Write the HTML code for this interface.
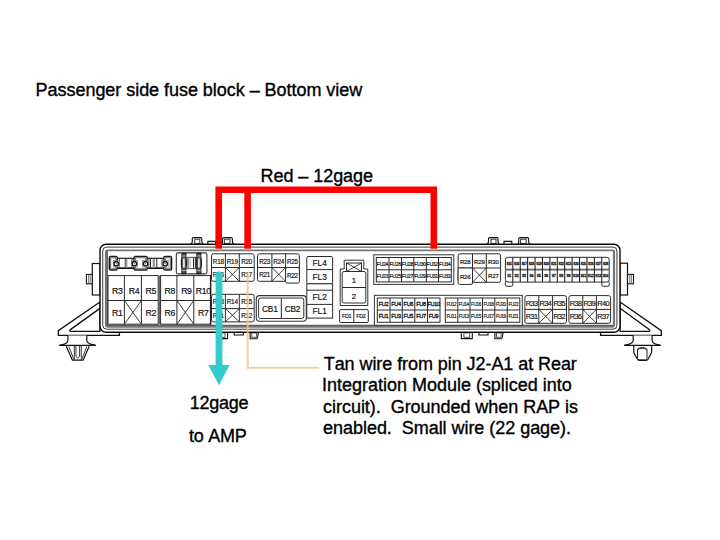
<!DOCTYPE html>
<html><head><meta charset="utf-8"><style>
html,body{margin:0;padding:0;background:#fff;overflow:hidden;width:720px;height:540px;}
svg{display:block;}
text{font-kerning:none;}
</style></head><body>
<svg width="720" height="540" viewBox="0 0 720 540" font-family='"Liberation Sans", sans-serif'>
<rect width="720" height="540" fill="#fff"/>
<text x="35.6" y="96" font-size="18" fill="#000" stroke="#000" stroke-width="0.35" textLength="326.6" lengthAdjust="spacing" xml:space="preserve">Passenger side fuse block – Bottom view</text>
<text x="260.6" y="182.3" font-size="18" fill="#000" stroke="#000" stroke-width="0.35" textLength="112.4" lengthAdjust="spacing" xml:space="preserve">Red – 12gage</text>
<text x="323.75" y="370.2" font-size="18" fill="#000" stroke="#000" stroke-width="0.35" textLength="253.1" lengthAdjust="spacing" xml:space="preserve">Tan wire from pin J2-A1 at Rear</text>
<text x="322.0" y="391.4" font-size="18" fill="#000" stroke="#000" stroke-width="0.35" textLength="249.8" lengthAdjust="spacing" xml:space="preserve">Integration Module (spliced into</text>
<text x="323.1" y="412.6" font-size="18" fill="#000" stroke="#000" stroke-width="0.35" textLength="254.9" lengthAdjust="spacing" xml:space="preserve">circuit).  Grounded when RAP is</text>
<text x="323.1" y="433.8" font-size="18" fill="#000" stroke="#000" stroke-width="0.35" textLength="247.9" lengthAdjust="spacing" xml:space="preserve">enabled.  Small wire (22 gage).</text>
<text x="189.7" y="409" font-size="18" fill="#000" stroke="#000" stroke-width="0.35" textLength="58.9" lengthAdjust="spacing" xml:space="preserve">12gage</text>
<text x="189" y="441.8" font-size="18" fill="#000" stroke="#000" stroke-width="0.35" textLength="57.7" lengthAdjust="spacing" xml:space="preserve">to AMP</text>
<path d="M99.6,302.2 L58.3,330.6 L58.3,335.4 L119.4,335.4 L119.4,332" fill="#fff" stroke="#111" stroke-width="1.3"/>
<path d="M99.6,308.6 L70.4,329.6 Q69,331.3 71,331.3 L99.9,331.3 L99.9,302" fill="none" stroke="#111" stroke-width="1.3"/>
<path d="M67.9,335.4 L67.9,340.5 C67.9,343.2 64,344.6 59.4,345.4 L95.7,345.4 C91,344.6 86.8,343.2 86.8,340.5 L86.8,335.4" fill="#fff" stroke="#111" stroke-width="1.2"/>
<path d="M59.4,345.4 L62.5,344.6 L62.5,345.4 Z M95.7,345.4 L92.6,344.6 L92.6,345.4 Z" fill="#111" stroke="#111" stroke-width="0.8"/>
<path d="M66.3,346.2 L72.4,360.2 L83.1,360.2 L89.2,346.2" fill="#fff" stroke="#111" stroke-width="1.2"/>
<path d="M68.8,346.5 L73.6,358.8 M86.8,346.5 L82.1,358.8 M74.3,346 L74.3,360 M81.3,346 L81.3,360 M75.9,346 L75.9,356.3 L77.6,358.2 L79.6,356.3 L79.6,346" fill="none" stroke="#222" stroke-width="0.9"/>
<path d="M620.4,302.2 L661.3,330.6 L661.3,335.4 L600.6,335.4 L600.6,332" fill="#fff" stroke="#111" stroke-width="1.3"/>
<path d="M620.4,308.4 L649.2,329.6 Q650.8,331.3 648.6,331.3 L620.1,331.3 L620.1,302" fill="none" stroke="#111" stroke-width="1.3"/>
<path d="M633.2,335.4 L633.2,340.5 C633.2,343.2 629,344.6 624.3,345.4 L660.6,345.4 C656,344.6 652.1,343.2 652.1,340.5 L652.1,335.4" fill="#fff" stroke="#111" stroke-width="1.2"/>
<path d="M624.3,345.4 L627.4,344.6 L627.4,345.4 Z M660.6,345.4 L657.5,344.6 L657.5,345.4 Z" fill="#111" stroke="#111" stroke-width="0.8"/>
<path d="M633.8,346 L633.8,352.5 L637.3,359 Q638,360.3 639.5,360.3 L646,360.3 Q647.5,360.3 648.2,359 L651.6,352.5 L651.6,346" fill="#fff" stroke="#111" stroke-width="1.2"/>
<rect x="637.5" y="348.3" width="9.5" height="11.5" rx="1.6" fill="#fff" stroke="#222" stroke-width="1"/>
<path d="M638.2,350.2 C639.5,346.8 645,346.8 646.4,350.2 M640.5,348.6 L641.4,346.8 M644,348.6 L643.2,346.8" fill="none" stroke="#222" stroke-width="0.8"/>
<rect x="92.3" y="263.5" width="7.70" height="31.50" rx="0" fill="#fff" stroke="#111" stroke-width="1.2"/>
<rect x="86.4" y="274.4" width="5.90" height="9.40" rx="0" fill="#fff" stroke="#111" stroke-width="1.1"/>
<line x1="88.7" y1="274.6" x2="88.7" y2="283.6" stroke="#444" stroke-width="0.8"/>
<line x1="90.4" y1="274.6" x2="90.4" y2="283.6" stroke="#666" stroke-width="0.8"/>
<rect x="620" y="263.2" width="7.50" height="31.80" rx="0" fill="#fff" stroke="#111" stroke-width="1.2"/>
<rect x="627.5" y="274.4" width="6.00" height="9.40" rx="0" fill="#fff" stroke="#111" stroke-width="1.1"/>
<line x1="629.6" y1="274.6" x2="629.6" y2="283.6" stroke="#666" stroke-width="0.8"/>
<line x1="631.3" y1="274.6" x2="631.3" y2="283.6" stroke="#444" stroke-width="0.8"/>
<path d="M190.5,244 C192.0,244 192.3,243 192.3,241 L192.3,238.6 C192.3,237.9 192.8,237.6 193.5,237.6 L200.6,237.6 C201.3,237.6 201.8,238 201.8,238.8 L201.8,241 C201.8,243 202.2,244 203.5,244" fill="#fff" stroke="#111" stroke-width="1.1"/>
<rect x="194.8" y="239.2" width="5" height="4.4" fill="#fff" stroke="#333" stroke-width="1"/>
<path d="M207.8,244 L207.8,241.4 L215.6,241.4 L215.6,244" fill="#fff" stroke="#111" stroke-width="1.1"/>
<path d="M221.2,244 C222.4,244 222.6,243 222.6,241 L222.6,238.6 C222.6,237.9 223.1,237.6 223.8,237.6 L231.2,237.6 C231.9,237.6 232.4,238 232.4,238.8 L232.4,241 C232.4,243 232.8,244 234.2,244" fill="#fff" stroke="#111" stroke-width="1.1"/>
<rect x="224.4" y="239.2" width="5.6" height="4.4" fill="#fff" stroke="#333" stroke-width="1"/>
<path d="M486.7,244 C488.2,244 488.5,243 488.5,241 L488.5,238.6 C488.5,237.9 489.0,237.6 489.7,237.6 L496.79999999999995,237.6 C497.5,237.6 498.0,238 498.0,238.8 L498.0,241 C498.0,243 498.4,244 499.7,244" fill="#fff" stroke="#111" stroke-width="1.1"/>
<rect x="491.0" y="239.2" width="5" height="4.4" fill="#fff" stroke="#333" stroke-width="1"/>
<path d="M504.0,244 L504.0,241.4 L511.79999999999995,241.4 L511.79999999999995,244" fill="#fff" stroke="#111" stroke-width="1.1"/>
<path d="M517.4,244 C518.6,244 518.8,243 518.8,241 L518.8,238.6 C518.8,237.9 519.3,237.6 520.0,237.6 L527.4,237.6 C528.1,237.6 528.6,238 528.6,238.8 L528.6,241 C528.6,243 529.0,244 530.4,244" fill="#fff" stroke="#111" stroke-width="1.1"/>
<rect x="520.6" y="239.2" width="5.6" height="4.4" fill="#fff" stroke="#333" stroke-width="1"/>
<path d="M215.2,332 C216.4,332 216.6,333 216.6,334.5 L216.6,338.6 L227.6,338.6 L227.6,332" fill="#fff" stroke="#111" stroke-width="1.1"/>
<rect x="219.2" y="332.9" width="5.8" height="4.4" fill="#fff" stroke="#444" stroke-width="0.9"/>
<path d="M234.2,332 L234.2,335 L243.3,335 L243.3,332" fill="#fff" stroke="#111" stroke-width="1.1"/>
<path d="M250.2,332 L250.2,338.8 L256.6,338.8 C257.6,338.8 257.8,337 258.0,334.5 C258.2,332.6 258.8,332 260.0,332" fill="#fff" stroke="#111" stroke-width="1.1"/>
<rect x="251.8" y="332.9" width="4.6" height="4.4" fill="#fff" stroke="#444" stroke-width="0.9"/>
<path d="M459.9,332 C461.1,332 461.3,333 461.3,334.5 L461.3,338.6 L472.3,338.6 L472.3,332" fill="#fff" stroke="#111" stroke-width="1.1"/>
<rect x="463.9" y="332.9" width="5.8" height="4.4" fill="#fff" stroke="#444" stroke-width="0.9"/>
<path d="M478.9,332 L478.9,335 L488.0,335 L488.0,332" fill="#fff" stroke="#111" stroke-width="1.1"/>
<path d="M494.9,332 L494.9,338.8 L501.30000000000007,338.8 C502.30000000000007,338.8 502.5,337 502.70000000000005,334.5 C502.9,332.6 503.5,332 504.70000000000005,332" fill="#fff" stroke="#111" stroke-width="1.1"/>
<rect x="496.5" y="332.9" width="4.6" height="4.4" fill="#fff" stroke="#444" stroke-width="0.9"/>
<rect x="100" y="244.2" width="520.00" height="88.00" rx="6" fill="#fff" stroke="#0a0a0a" stroke-width="1.4"/>
<rect x="102.75" y="247.1" width="514.20" height="82.10" rx="4" fill="#fff" stroke="#3a3a3a" stroke-width="1.0"/>
<path d="M104.9,324.8 L104.9,251.5 Q104.9,249.4 107,249.4 L613,249.4 Q615.1,249.4 615.1,251.5 L615.1,324.8 Q615.1,327.7 612.2,327.7 L107.8,327.7 Q104.9,327.7 104.9,324.8 Z M107.4,324.9 L612.9,324.9 L612.9,251.3 L107.4,251.3 Z" fill="#767676" fill-rule="evenodd"/>
<line x1="107.4" y1="251.3" x2="107.4" y2="324.9" stroke="#444" stroke-width="0.8"/>
<line x1="107" y1="325.2" x2="613" y2="325.2" stroke="#444" stroke-width="0.7"/>
<rect x="110" y="258.3" width="61" height="9.9" fill="#fff" stroke="#1a1a1a" stroke-width="1.2"/>
<line x1="110" y1="268.3" x2="171" y2="268.3" stroke="#111" stroke-width="1.6"/>
<rect x="109.3" y="256.4" width="7.9" height="13.6" rx="1.3" fill="#fff" stroke="#1a1a1a" stroke-width="1.4"/>
<rect x="110.6" y="257.7" width="5.3" height="11" rx="0.8" fill="#fff" stroke="#666" stroke-width="1.1"/>
<rect x="134.0" y="256.4" width="13.2" height="13.6" rx="1.3" fill="#fff" stroke="#1a1a1a" stroke-width="1.4"/>
<rect x="135.3" y="257.7" width="10.6" height="11" rx="0.8" fill="#fff" stroke="#666" stroke-width="1.1"/>
<rect x="163.8" y="256.4" width="7.8" height="13.6" rx="1.3" fill="#fff" stroke="#1a1a1a" stroke-width="1.4"/>
<rect x="165.1" y="257.7" width="5.2" height="11" rx="0.8" fill="#fff" stroke="#666" stroke-width="1.1"/>
<rect x="124.8" y="258.8" width="1.0" height="9" fill="#222"/>
<rect x="125.6" y="258.8" width="1.8" height="9" fill="#999"/>
<rect x="131.5" y="258.8" width="1.0" height="9" fill="#222"/>
<rect x="150.0" y="258.8" width="1.0" height="9" fill="#222"/>
<rect x="152.6" y="258.8" width="2.4" height="9" fill="#999"/>
<rect x="156.3" y="258.8" width="1.0" height="9" fill="#222"/>
<rect x="119.0" y="258.8" width="0.8" height="9" fill="#555"/>
<rect x="148.6" y="258.8" width="0.8" height="9" fill="#555"/>
<rect x="161.6" y="258.8" width="0.8" height="9" fill="#555"/>
<rect x="113.3" y="260.4" width="6" height="6.6" fill="#fff" stroke="#666" stroke-width="0.6"/>
<circle cx="116.3" cy="263.7" r="2.2" fill="#fff" stroke="#111" stroke-width="1.3"/>
<circle cx="116.3" cy="263.7" r="0.6" fill="#555"/>
<rect x="131.4" y="260.4" width="6" height="6.6" fill="#fff" stroke="#666" stroke-width="0.6"/>
<circle cx="134.4" cy="263.7" r="2.2" fill="#fff" stroke="#111" stroke-width="1.3"/>
<circle cx="134.4" cy="263.7" r="0.6" fill="#555"/>
<rect x="142.6" y="260.4" width="6" height="6.6" fill="#fff" stroke="#666" stroke-width="0.6"/>
<circle cx="145.6" cy="263.7" r="2.2" fill="#fff" stroke="#111" stroke-width="1.3"/>
<circle cx="145.6" cy="263.7" r="0.6" fill="#555"/>
<rect x="162.2" y="260.4" width="6" height="6.6" fill="#fff" stroke="#666" stroke-width="0.6"/>
<circle cx="165.2" cy="263.7" r="2.2" fill="#fff" stroke="#111" stroke-width="1.3"/>
<circle cx="165.2" cy="263.7" r="0.6" fill="#555"/>
<rect x="176.3" y="252.9" width="30.60" height="21.00" rx="1.6" fill="#fff" stroke="#333" stroke-width="1.1"/>
<rect x="185.6" y="257.3" width="11.8" height="11.4" fill="#fff" stroke="#333" stroke-width="0.9"/>
<rect x="186.8" y="257.6" width="2.6" height="10.8" fill="#999"/>
<line x1="190.6" y1="257.6" x2="190.6" y2="268.4" stroke="#bbb" stroke-width="0.8"/>
<line x1="193.6" y1="257.6" x2="193.6" y2="268.4" stroke="#222" stroke-width="1"/>
<line x1="195.4" y1="257.6" x2="195.4" y2="268.4" stroke="#222" stroke-width="0.9"/>
<path d="M181.9,253.2 L181.9,257.5 C181.1,259.5 181.1,266.5 181.9,268.5 L181.9,273.7 L185.9,273.7 L185.9,268.5 C186.70000000000002,266.5 186.70000000000002,259.5 185.9,257.5 L185.9,253.2 Z" fill="#555" stroke="#111" stroke-width="1"/>
<rect x="183.0" y="258.6" width="1.8" height="9" fill="#e8e8e8"/>
<path d="M181.9,256 L185.9,256 M181.9,270.6 L185.9,270.6" stroke="#ddd" stroke-width="0.7"/>
<path d="M196.9,253.2 L196.9,257.5 C196.1,259.5 196.1,266.5 196.9,268.5 L196.9,273.7 L200.9,273.7 L200.9,268.5 C201.70000000000002,266.5 201.70000000000002,259.5 200.9,257.5 L200.9,253.2 Z" fill="#555" stroke="#111" stroke-width="1"/>
<rect x="198.0" y="258.6" width="1.8" height="9" fill="#e8e8e8"/>
<path d="M196.9,256 L200.9,256 M196.9,270.6 L200.9,270.6" stroke="#ddd" stroke-width="0.7"/>
<rect x="108" y="275.6" width="50.20" height="48.60" rx="0" fill="#fff" stroke="#2a2a2a" stroke-width="1"/>
<line x1="124.4" y1="275.6" x2="124.4" y2="324.2" stroke="#2a2a2a" stroke-width="1"/>
<line x1="141.4" y1="275.6" x2="141.4" y2="324.2" stroke="#2a2a2a" stroke-width="1"/>
<line x1="108" y1="300.5" x2="158.2" y2="300.5" stroke="#2a2a2a" stroke-width="1"/>
<text x="117.25" y="293.74" font-size="8.7" letter-spacing="-0.3" text-anchor="middle" fill="#111" stroke="#111" stroke-width="0.18">R3</text>
<text x="133.95" y="293.74" font-size="8.7" letter-spacing="-0.3" text-anchor="middle" fill="#111" stroke="#111" stroke-width="0.18">R4</text>
<text x="150.85" y="293.74" font-size="8.7" letter-spacing="-0.3" text-anchor="middle" fill="#111" stroke="#111" stroke-width="0.18">R5</text>
<text x="117.25" y="315.74" font-size="8.7" letter-spacing="-0.3" text-anchor="middle" fill="#111" stroke="#111" stroke-width="0.18">R1</text>
<line x1="124.4" y1="300.5" x2="141.4" y2="324.2" stroke="#2a2a2a" stroke-width="0.9"/>
<line x1="124.4" y1="324.2" x2="141.4" y2="300.5" stroke="#2a2a2a" stroke-width="0.9"/>
<text x="150.85" y="315.74" font-size="8.7" letter-spacing="-0.3" text-anchor="middle" fill="#111" stroke="#111" stroke-width="0.18">R2</text>
<line x1="159.4" y1="275.6" x2="159.4" y2="324.2" stroke="#666" stroke-width="1.6"/>
<rect x="160.6" y="275.6" width="50.00" height="48.60" rx="0" fill="#fff" stroke="#2a2a2a" stroke-width="1"/>
<line x1="176.9" y1="275.6" x2="176.9" y2="324.2" stroke="#2a2a2a" stroke-width="1"/>
<line x1="193.8" y1="275.6" x2="193.8" y2="324.2" stroke="#2a2a2a" stroke-width="1"/>
<line x1="160.6" y1="300.5" x2="210.6" y2="300.5" stroke="#2a2a2a" stroke-width="1"/>
<text x="169.80" y="293.74" font-size="8.7" letter-spacing="-0.3" text-anchor="middle" fill="#111" stroke="#111" stroke-width="0.18">R8</text>
<text x="186.40" y="293.74" font-size="8.7" letter-spacing="-0.3" text-anchor="middle" fill="#111" stroke="#111" stroke-width="0.18">R9</text>
<text x="203.25" y="293.74" font-size="8.7" letter-spacing="-0.3" text-anchor="middle" fill="#111" stroke="#111" stroke-width="0.18">R10</text>
<text x="169.80" y="315.74" font-size="8.7" letter-spacing="-0.3" text-anchor="middle" fill="#111" stroke="#111" stroke-width="0.18">R6</text>
<line x1="176.9" y1="300.5" x2="193.8" y2="324.2" stroke="#2a2a2a" stroke-width="0.9"/>
<line x1="176.9" y1="324.2" x2="193.8" y2="300.5" stroke="#2a2a2a" stroke-width="0.9"/>
<text x="203.25" y="315.74" font-size="8.7" letter-spacing="-0.3" text-anchor="middle" fill="#111" stroke="#111" stroke-width="0.18">R7</text>
<line x1="210.6" y1="275.6" x2="210.6" y2="324.8" stroke="#222" stroke-width="1.4"/>
<rect x="211.5" y="253.8" width="42.70" height="27.50" rx="2" fill="#fff" stroke="#2a2a2a" stroke-width="1"/>
<line x1="225.4" y1="253.8" x2="225.4" y2="281.3" stroke="#2a2a2a" stroke-width="1"/>
<line x1="239.3" y1="253.8" x2="239.3" y2="281.3" stroke="#2a2a2a" stroke-width="1"/>
<line x1="211.5" y1="267.5" x2="254.2" y2="267.5" stroke="#2a2a2a" stroke-width="1"/>
<text x="218.38" y="263.52" font-size="6.3" letter-spacing="-0.15" text-anchor="middle" fill="#111" stroke="#111" stroke-width="0.18">R18</text>
<text x="232.28" y="263.52" font-size="6.3" letter-spacing="-0.15" text-anchor="middle" fill="#111" stroke="#111" stroke-width="0.18">R19</text>
<text x="246.68" y="263.52" font-size="6.3" letter-spacing="-0.15" text-anchor="middle" fill="#111" stroke="#111" stroke-width="0.18">R20</text>
<text x="218.38" y="277.27" font-size="6.3" letter-spacing="-0.15" text-anchor="middle" fill="#111" stroke="#111" stroke-width="0.18">R16</text>
<line x1="225.4" y1="267.5" x2="239.3" y2="281.3" stroke="#2a2a2a" stroke-width="0.9"/>
<line x1="225.4" y1="281.3" x2="239.3" y2="267.5" stroke="#2a2a2a" stroke-width="0.9"/>
<text x="246.68" y="277.27" font-size="6.3" letter-spacing="-0.15" text-anchor="middle" fill="#111" stroke="#111" stroke-width="0.18">R17</text>
<rect x="211.5" y="294.3" width="42.70" height="27.60" rx="2" fill="#fff" stroke="#2a2a2a" stroke-width="1"/>
<line x1="225.4" y1="294.3" x2="225.4" y2="321.9" stroke="#2a2a2a" stroke-width="1"/>
<line x1="239.3" y1="294.3" x2="239.3" y2="321.9" stroke="#2a2a2a" stroke-width="1"/>
<line x1="211.5" y1="308.6" x2="254.2" y2="308.6" stroke="#2a2a2a" stroke-width="1"/>
<text x="218.38" y="304.32" font-size="6.3" letter-spacing="-0.15" text-anchor="middle" fill="#111" stroke="#111" stroke-width="0.18">R13</text>
<text x="232.28" y="304.32" font-size="6.3" letter-spacing="-0.15" text-anchor="middle" fill="#111" stroke="#111" stroke-width="0.18">R14</text>
<text x="246.68" y="304.32" font-size="6.3" letter-spacing="-0.15" text-anchor="middle" fill="#111" stroke="#111" stroke-width="0.18">R15</text>
<text x="218.38" y="318.12" font-size="6.3" letter-spacing="-0.15" text-anchor="middle" fill="#111" stroke="#111" stroke-width="0.18">R11</text>
<line x1="225.4" y1="308.6" x2="239.3" y2="321.9" stroke="#2a2a2a" stroke-width="0.9"/>
<line x1="225.4" y1="321.9" x2="239.3" y2="308.6" stroke="#2a2a2a" stroke-width="0.9"/>
<text x="246.68" y="318.12" font-size="6.3" letter-spacing="-0.15" text-anchor="middle" fill="#111" stroke="#111" stroke-width="0.18">R12</text>
<rect x="257.5" y="253.8" width="41.90" height="27.50" rx="2" fill="#fff" stroke="#2a2a2a" stroke-width="1"/>
<line x1="271.9" y1="253.8" x2="271.9" y2="281.3" stroke="#2a2a2a" stroke-width="1"/>
<line x1="285.6" y1="253.8" x2="285.6" y2="281.3" stroke="#2a2a2a" stroke-width="1"/>
<line x1="257.5" y1="267.5" x2="299.4" y2="267.5" stroke="#2a2a2a" stroke-width="1"/>
<text x="264.57" y="263.52" font-size="6.3" letter-spacing="-0.25" text-anchor="middle" fill="#111" stroke="#111" stroke-width="0.18">R23</text>
<text x="278.62" y="263.52" font-size="6.3" letter-spacing="-0.25" text-anchor="middle" fill="#111" stroke="#111" stroke-width="0.18">R24</text>
<text x="292.38" y="263.52" font-size="6.3" letter-spacing="-0.25" text-anchor="middle" fill="#111" stroke="#111" stroke-width="0.18">R25</text>
<text x="264.57" y="277.27" font-size="6.3" letter-spacing="-0.25" text-anchor="middle" fill="#111" stroke="#111" stroke-width="0.18">R21</text>
<line x1="271.9" y1="267.5" x2="285.6" y2="281.3" stroke="#2a2a2a" stroke-width="0.9"/>
<line x1="271.9" y1="281.3" x2="285.6" y2="267.5" stroke="#2a2a2a" stroke-width="0.9"/>
<rect x="285.6" y="267.5" width="13.80" height="15.60" rx="1.5" fill="#fff" stroke="#2a2a2a" stroke-width="1"/>
<text x="292.38" y="278.27" font-size="6.3" letter-spacing="-0.25" text-anchor="middle" fill="#111" stroke="#111" stroke-width="0.18">R22</text>
<rect x="306.8" y="256.5" width="25.80" height="27.30" rx="1.2" fill="#fff" stroke="#2a2a2a" stroke-width="1"/>
<line x1="306.8" y1="269.6" x2="332.6" y2="269.6" stroke="#2a2a2a" stroke-width="1"/>
<text x="319.70" y="266.21" font-size="8.3" letter-spacing="0" text-anchor="middle" fill="#111" stroke="#111" stroke-width="0.18">FL4</text>
<text x="319.70" y="279.86" font-size="8.3" letter-spacing="0" text-anchor="middle" fill="#111" stroke="#111" stroke-width="0.18">FL3</text>
<rect x="306.8" y="283.8" width="25.80" height="34.30" rx="0" fill="#fff" stroke="#2a2a2a" stroke-width="1"/>
<line x1="306.8" y1="290.2" x2="332.6" y2="290.2" stroke="#2a2a2a" stroke-width="1"/>
<line x1="306.8" y1="304.4" x2="332.6" y2="304.4" stroke="#2a2a2a" stroke-width="1"/>
<text x="319.70" y="300.46" font-size="8.3" letter-spacing="0" text-anchor="middle" fill="#111" stroke="#111" stroke-width="0.18">FL2</text>
<text x="319.70" y="314.41" font-size="8.3" letter-spacing="0" text-anchor="middle" fill="#111" stroke="#111" stroke-width="0.18">FL1</text>
<rect x="256.3" y="295.6" width="50.00" height="25.70" rx="3.2" fill="#fff" stroke="#333" stroke-width="1.1"/>
<rect x="258.6" y="298" width="45.20" height="20.50" rx="2" fill="#fff" stroke="#333" stroke-width="1"/>
<line x1="281.3" y1="298" x2="281.3" y2="318.5" stroke="#2a2a2a" stroke-width="1"/>
<text x="269.80" y="311.64" font-size="8.4" letter-spacing="-0.3" text-anchor="middle" fill="#111" stroke="#111" stroke-width="0.18">CB1</text>
<text x="292.40" y="311.64" font-size="8.4" letter-spacing="-0.3" text-anchor="middle" fill="#111" stroke="#111" stroke-width="0.18">CB2</text>
<path d="M344.2,269 L344.2,260.2 L363.8,260.2 L363.8,269 L367.8,269 L367.8,305.5 L340.2,305.5 L340.2,269 Z" fill="#fff" stroke="#333" stroke-width="1"/>
<rect x="342.2" y="271.5" width="23.6" height="31.5" rx="1.8" fill="#fff" stroke="#333" stroke-width="1"/>
<line x1="342.2" y1="287.5" x2="365.8" y2="287.5" stroke="#2a2a2a" stroke-width="1"/>
<rect x="346.5" y="263" width="15.00" height="8.50" rx="0" fill="#fff" stroke="#2a2a2a" stroke-width="1"/>
<line x1="346.5" y1="263" x2="361.5" y2="271.5" stroke="#2a2a2a" stroke-width="0.9"/>
<line x1="346.5" y1="271.5" x2="361.5" y2="263" stroke="#2a2a2a" stroke-width="0.9"/>
<text x="354.00" y="282.88" font-size="7.8" letter-spacing="0" text-anchor="middle" fill="#111" stroke="#111" stroke-width="0.18">1</text>
<text x="354.00" y="298.63" font-size="7.8" letter-spacing="0" text-anchor="middle" fill="#111" stroke="#111" stroke-width="0.18">2</text>
<rect x="339.6" y="309.6" width="28.70" height="12.90" rx="1.2" fill="#fff" stroke="#2a2a2a" stroke-width="1"/>
<line x1="353.8" y1="309.6" x2="353.8" y2="322.5" stroke="#2a2a2a" stroke-width="1"/>
<text x="346.55" y="318.31" font-size="5.4" letter-spacing="-0.3" text-anchor="middle" fill="#111" stroke="#111" stroke-width="0.18">FD1</text>
<text x="360.90" y="318.31" font-size="5.4" letter-spacing="-0.3" text-anchor="middle" fill="#111" stroke="#111" stroke-width="0.18">FD2</text>
<rect x="373.8" y="254.8" width="80.00" height="29.60" rx="0" fill="#fff" stroke="#333" stroke-width="1"/>
<rect x="376.3" y="257.5" width="75.00" height="24.40" rx="0" fill="#fff" stroke="#2a2a2a" stroke-width="1"/>
<line x1="389" y1="257.5" x2="389" y2="281.9" stroke="#2a2a2a" stroke-width="1"/>
<line x1="401.5" y1="257.5" x2="401.5" y2="281.9" stroke="#2a2a2a" stroke-width="1"/>
<line x1="413.8" y1="257.5" x2="413.8" y2="281.9" stroke="#2a2a2a" stroke-width="1"/>
<line x1="426.3" y1="257.5" x2="426.3" y2="281.9" stroke="#2a2a2a" stroke-width="1"/>
<line x1="438.5" y1="257.5" x2="438.5" y2="281.9" stroke="#2a2a2a" stroke-width="1"/>
<line x1="376.3" y1="269.8" x2="451.3" y2="269.8" stroke="#2a2a2a" stroke-width="1"/>
<text x="382.50" y="265.70" font-size="5.1" letter-spacing="-0.3" text-anchor="middle" fill="#111" stroke="#111" stroke-width="0.2">FU24</text>
<text x="395.10" y="265.70" font-size="5.1" letter-spacing="-0.3" text-anchor="middle" fill="#111" stroke="#111" stroke-width="0.2">FU26</text>
<text x="407.50" y="265.70" font-size="5.1" letter-spacing="-0.3" text-anchor="middle" fill="#111" stroke="#111" stroke-width="0.2">FU28</text>
<text x="419.90" y="265.70" font-size="5.1" letter-spacing="-0.3" text-anchor="middle" fill="#111" stroke="#111" stroke-width="0.2">FU30</text>
<text x="432.25" y="265.70" font-size="5.1" letter-spacing="-0.3" text-anchor="middle" fill="#111" stroke="#111" stroke-width="0.2">FU32</text>
<text x="444.75" y="265.70" font-size="5.1" letter-spacing="-0.3" text-anchor="middle" fill="#111" stroke="#111" stroke-width="0.2">FU34</text>
<text x="382.50" y="277.90" font-size="5.1" letter-spacing="-0.3" text-anchor="middle" fill="#111" stroke="#111" stroke-width="0.2">FU23</text>
<text x="395.10" y="277.90" font-size="5.1" letter-spacing="-0.3" text-anchor="middle" fill="#111" stroke="#111" stroke-width="0.2">FU25</text>
<text x="407.50" y="277.90" font-size="5.1" letter-spacing="-0.3" text-anchor="middle" fill="#111" stroke="#111" stroke-width="0.2">FU27</text>
<text x="419.90" y="277.90" font-size="5.1" letter-spacing="-0.3" text-anchor="middle" fill="#111" stroke="#111" stroke-width="0.2">FU29</text>
<text x="432.25" y="277.90" font-size="5.1" letter-spacing="-0.3" text-anchor="middle" fill="#111" stroke="#111" stroke-width="0.2">FU31</text>
<text x="444.75" y="277.90" font-size="5.1" letter-spacing="-0.3" text-anchor="middle" fill="#111" stroke="#111" stroke-width="0.2">FU33</text>
<rect x="374.4" y="295.3" width="147.90" height="30.00" rx="0" fill="#fff" stroke="#333" stroke-width="1"/>
<rect x="377.3" y="298" width="62.70" height="24.30" rx="0" fill="#fff" stroke="#2a2a2a" stroke-width="1"/>
<line x1="390" y1="298" x2="390" y2="322.3" stroke="#2a2a2a" stroke-width="1"/>
<line x1="402.3" y1="298" x2="402.3" y2="322.3" stroke="#2a2a2a" stroke-width="1"/>
<line x1="414.8" y1="298" x2="414.8" y2="322.3" stroke="#2a2a2a" stroke-width="1"/>
<line x1="427.5" y1="298" x2="427.5" y2="322.3" stroke="#2a2a2a" stroke-width="1"/>
<line x1="377.3" y1="310" x2="440" y2="310" stroke="#2a2a2a" stroke-width="1"/>
<text x="383.47" y="306.23" font-size="5.6" letter-spacing="-0.35" text-anchor="middle" fill="#111" stroke="#111" stroke-width="0.3">FU2</text>
<text x="395.97" y="306.23" font-size="5.6" letter-spacing="-0.35" text-anchor="middle" fill="#111" stroke="#111" stroke-width="0.3">FU4</text>
<text x="408.38" y="306.23" font-size="5.6" letter-spacing="-0.35" text-anchor="middle" fill="#111" stroke="#111" stroke-width="0.3">FU6</text>
<text x="420.97" y="306.23" font-size="5.6" letter-spacing="-0.35" text-anchor="middle" fill="#111" stroke="#111" stroke-width="0.3">FU8</text>
<text x="433.57" y="306.23" font-size="5.6" letter-spacing="-0.35" text-anchor="middle" fill="#111" stroke="#111" stroke-width="0.3">FU10</text>
<text x="383.47" y="318.38" font-size="5.6" letter-spacing="-0.35" text-anchor="middle" fill="#111" stroke="#111" stroke-width="0.3">FU1</text>
<text x="395.97" y="318.38" font-size="5.6" letter-spacing="-0.35" text-anchor="middle" fill="#111" stroke="#111" stroke-width="0.3">FU3</text>
<text x="408.38" y="318.38" font-size="5.6" letter-spacing="-0.35" text-anchor="middle" fill="#111" stroke="#111" stroke-width="0.3">FU5</text>
<text x="420.97" y="318.38" font-size="5.6" letter-spacing="-0.35" text-anchor="middle" fill="#111" stroke="#111" stroke-width="0.3">FU7</text>
<text x="433.57" y="318.38" font-size="5.6" letter-spacing="-0.35" text-anchor="middle" fill="#111" stroke="#111" stroke-width="0.3">FU9</text>
<rect x="445.3" y="298" width="74.50" height="24.30" rx="0" fill="#fff" stroke="#2a2a2a" stroke-width="1"/>
<line x1="457.8" y1="298" x2="457.8" y2="322.3" stroke="#2a2a2a" stroke-width="1"/>
<line x1="470" y1="298" x2="470" y2="322.3" stroke="#2a2a2a" stroke-width="1"/>
<line x1="482.5" y1="298" x2="482.5" y2="322.3" stroke="#2a2a2a" stroke-width="1"/>
<line x1="494.8" y1="298" x2="494.8" y2="322.3" stroke="#2a2a2a" stroke-width="1"/>
<line x1="507.3" y1="298" x2="507.3" y2="322.3" stroke="#2a2a2a" stroke-width="1"/>
<line x1="445.3" y1="310" x2="519.8" y2="310" stroke="#2a2a2a" stroke-width="1"/>
<text x="451.35" y="305.92" font-size="4.7" letter-spacing="-0.4" text-anchor="middle" fill="#111" stroke="#111" stroke-width="0.15">FU12</text>
<text x="463.70" y="305.92" font-size="4.7" letter-spacing="-0.4" text-anchor="middle" fill="#111" stroke="#111" stroke-width="0.15">FU14</text>
<text x="476.05" y="305.92" font-size="4.7" letter-spacing="-0.4" text-anchor="middle" fill="#111" stroke="#111" stroke-width="0.15">FU16</text>
<text x="488.45" y="305.92" font-size="4.7" letter-spacing="-0.4" text-anchor="middle" fill="#111" stroke="#111" stroke-width="0.15">FU18</text>
<text x="500.85" y="305.92" font-size="4.7" letter-spacing="-0.4" text-anchor="middle" fill="#111" stroke="#111" stroke-width="0.15">FU20</text>
<text x="513.35" y="305.92" font-size="4.7" letter-spacing="-0.4" text-anchor="middle" fill="#111" stroke="#111" stroke-width="0.15">FU22</text>
<text x="451.35" y="318.07" font-size="4.7" letter-spacing="-0.4" text-anchor="middle" fill="#111" stroke="#111" stroke-width="0.15">FU11</text>
<text x="463.70" y="318.07" font-size="4.7" letter-spacing="-0.4" text-anchor="middle" fill="#111" stroke="#111" stroke-width="0.15">FU13</text>
<text x="476.05" y="318.07" font-size="4.7" letter-spacing="-0.4" text-anchor="middle" fill="#111" stroke="#111" stroke-width="0.15">FU15</text>
<text x="488.45" y="318.07" font-size="4.7" letter-spacing="-0.4" text-anchor="middle" fill="#111" stroke="#111" stroke-width="0.15">FU17</text>
<text x="500.85" y="318.07" font-size="4.7" letter-spacing="-0.4" text-anchor="middle" fill="#111" stroke="#111" stroke-width="0.15">FU19</text>
<text x="513.35" y="318.07" font-size="4.7" letter-spacing="-0.4" text-anchor="middle" fill="#111" stroke="#111" stroke-width="0.15">FU21</text>
<rect x="458.1" y="253.8" width="42.50" height="28.50" rx="2" fill="#fff" stroke="#2a2a2a" stroke-width="1"/>
<line x1="472.5" y1="253.8" x2="472.5" y2="282.3" stroke="#2a2a2a" stroke-width="1"/>
<line x1="486.3" y1="253.8" x2="486.3" y2="282.3" stroke="#2a2a2a" stroke-width="1"/>
<line x1="458.1" y1="268" x2="500.6" y2="268" stroke="#2a2a2a" stroke-width="1"/>
<text x="465.20" y="263.70" font-size="6.1" letter-spacing="-0.2" text-anchor="middle" fill="#111" stroke="#111" stroke-width="0.18">R28</text>
<text x="479.30" y="263.70" font-size="6.1" letter-spacing="-0.2" text-anchor="middle" fill="#111" stroke="#111" stroke-width="0.18">R29</text>
<text x="493.35" y="263.70" font-size="6.1" letter-spacing="-0.2" text-anchor="middle" fill="#111" stroke="#111" stroke-width="0.18">R30</text>
<line x1="472.5" y1="268" x2="486.3" y2="282.3" stroke="#2a2a2a" stroke-width="0.9"/>
<line x1="472.5" y1="282.3" x2="486.3" y2="268" stroke="#2a2a2a" stroke-width="0.9"/>
<text x="493.35" y="277.95" font-size="6.1" letter-spacing="-0.2" text-anchor="middle" fill="#111" stroke="#111" stroke-width="0.18">R27</text>
<rect x="458.1" y="268" width="14.40" height="16.40" rx="1.5" fill="#fff" stroke="#2a2a2a" stroke-width="1"/>
<text x="465.20" y="278.60" font-size="6.1" letter-spacing="-0.2" text-anchor="middle" fill="#111" stroke="#111" stroke-width="0.18">R26</text>
<rect x="505.4" y="281" width="7.41" height="5.30" rx="1.5" fill="#fff" stroke="#2a2a2a" stroke-width="1"/>
<rect x="601.7857142857143" y="281" width="7.41" height="5.30" rx="1.5" fill="#fff" stroke="#2a2a2a" stroke-width="1"/>
<rect x="505.4" y="257.3" width="103.80" height="24.80" rx="2.5" fill="#fff" stroke="#2a2a2a" stroke-width="1"/>
<rect x="505.4" y="269.2" width="103.8" height="1.6" fill="#999"/>
<line x1="505.4" y1="269.2" x2="609.2" y2="269.2" stroke="#333" stroke-width="0.8"/>
<line x1="512.81" y1="257.3" x2="512.81" y2="282.1" stroke="#1a1a1a" stroke-width="1.05"/>
<line x1="520.23" y1="257.3" x2="520.23" y2="282.1" stroke="#1a1a1a" stroke-width="1.05"/>
<line x1="527.64" y1="257.3" x2="527.64" y2="282.1" stroke="#1a1a1a" stroke-width="1.05"/>
<line x1="535.06" y1="257.3" x2="535.06" y2="282.1" stroke="#1a1a1a" stroke-width="1.05"/>
<line x1="542.47" y1="257.3" x2="542.47" y2="282.1" stroke="#1a1a1a" stroke-width="1.05"/>
<line x1="549.89" y1="257.3" x2="549.89" y2="282.1" stroke="#1a1a1a" stroke-width="1.05"/>
<line x1="557.30" y1="257.3" x2="557.30" y2="282.1" stroke="#1a1a1a" stroke-width="1.05"/>
<line x1="564.71" y1="257.3" x2="564.71" y2="282.1" stroke="#1a1a1a" stroke-width="1.05"/>
<line x1="572.13" y1="257.3" x2="572.13" y2="282.1" stroke="#1a1a1a" stroke-width="1.05"/>
<line x1="579.54" y1="257.3" x2="579.54" y2="282.1" stroke="#1a1a1a" stroke-width="1.05"/>
<line x1="586.96" y1="257.3" x2="586.96" y2="282.1" stroke="#1a1a1a" stroke-width="1.05"/>
<line x1="594.37" y1="257.3" x2="594.37" y2="282.1" stroke="#1a1a1a" stroke-width="1.05"/>
<line x1="601.79" y1="257.3" x2="601.79" y2="282.1" stroke="#1a1a1a" stroke-width="1.05"/>
<text x="509.11" y="265.10" font-size="3.3" letter-spacing="-0.25" text-anchor="middle" fill="#222" stroke="#222" stroke-width="0.35">S15</text>
<text x="509.11" y="277.40" font-size="3.5" letter-spacing="-0.2" text-anchor="middle" fill="#222" stroke="#222" stroke-width="0.35">S1</text>
<text x="516.52" y="265.10" font-size="3.3" letter-spacing="-0.25" text-anchor="middle" fill="#222" stroke="#222" stroke-width="0.35">S16</text>
<text x="516.52" y="277.40" font-size="3.5" letter-spacing="-0.2" text-anchor="middle" fill="#222" stroke="#222" stroke-width="0.35">S2</text>
<text x="523.94" y="265.10" font-size="3.3" letter-spacing="-0.25" text-anchor="middle" fill="#222" stroke="#222" stroke-width="0.35">S17</text>
<text x="523.94" y="277.40" font-size="3.5" letter-spacing="-0.2" text-anchor="middle" fill="#222" stroke="#222" stroke-width="0.35">S3</text>
<text x="531.35" y="265.10" font-size="3.3" letter-spacing="-0.25" text-anchor="middle" fill="#222" stroke="#222" stroke-width="0.35">S18</text>
<text x="531.35" y="277.40" font-size="3.5" letter-spacing="-0.2" text-anchor="middle" fill="#222" stroke="#222" stroke-width="0.35">S4</text>
<text x="538.76" y="265.10" font-size="3.3" letter-spacing="-0.25" text-anchor="middle" fill="#222" stroke="#222" stroke-width="0.35">S19</text>
<text x="538.76" y="277.40" font-size="3.5" letter-spacing="-0.2" text-anchor="middle" fill="#222" stroke="#222" stroke-width="0.35">S5</text>
<text x="546.18" y="265.10" font-size="3.3" letter-spacing="-0.25" text-anchor="middle" fill="#222" stroke="#222" stroke-width="0.35">S20</text>
<text x="546.18" y="277.40" font-size="3.5" letter-spacing="-0.2" text-anchor="middle" fill="#222" stroke="#222" stroke-width="0.35">S6</text>
<text x="553.59" y="265.10" font-size="3.3" letter-spacing="-0.25" text-anchor="middle" fill="#222" stroke="#222" stroke-width="0.35">S21</text>
<text x="553.59" y="277.40" font-size="3.5" letter-spacing="-0.2" text-anchor="middle" fill="#222" stroke="#222" stroke-width="0.35">S7</text>
<text x="561.01" y="265.10" font-size="3.3" letter-spacing="-0.25" text-anchor="middle" fill="#222" stroke="#222" stroke-width="0.35">S22</text>
<text x="561.01" y="277.40" font-size="3.5" letter-spacing="-0.2" text-anchor="middle" fill="#222" stroke="#222" stroke-width="0.35">S8</text>
<text x="568.42" y="265.10" font-size="3.3" letter-spacing="-0.25" text-anchor="middle" fill="#222" stroke="#222" stroke-width="0.35">S23</text>
<text x="568.42" y="277.40" font-size="3.5" letter-spacing="-0.2" text-anchor="middle" fill="#222" stroke="#222" stroke-width="0.35">S9</text>
<text x="575.84" y="265.10" font-size="3.3" letter-spacing="-0.25" text-anchor="middle" fill="#222" stroke="#222" stroke-width="0.35">S24</text>
<text x="575.84" y="277.40" font-size="3.5" letter-spacing="-0.2" text-anchor="middle" fill="#222" stroke="#222" stroke-width="0.35">S10</text>
<text x="583.25" y="265.10" font-size="3.3" letter-spacing="-0.25" text-anchor="middle" fill="#222" stroke="#222" stroke-width="0.35">S25</text>
<text x="583.25" y="277.40" font-size="3.5" letter-spacing="-0.2" text-anchor="middle" fill="#222" stroke="#222" stroke-width="0.35">S11</text>
<text x="590.66" y="265.10" font-size="3.3" letter-spacing="-0.25" text-anchor="middle" fill="#222" stroke="#222" stroke-width="0.35">S26</text>
<text x="590.66" y="277.40" font-size="3.5" letter-spacing="-0.2" text-anchor="middle" fill="#222" stroke="#222" stroke-width="0.35">S12</text>
<text x="598.08" y="265.10" font-size="3.3" letter-spacing="-0.25" text-anchor="middle" fill="#222" stroke="#222" stroke-width="0.35">S27</text>
<text x="598.08" y="277.40" font-size="3.5" letter-spacing="-0.2" text-anchor="middle" fill="#222" stroke="#222" stroke-width="0.35">S13</text>
<text x="605.49" y="265.10" font-size="3.3" letter-spacing="-0.25" text-anchor="middle" fill="#222" stroke="#222" stroke-width="0.35">S28</text>
<text x="605.49" y="277.40" font-size="3.5" letter-spacing="-0.2" text-anchor="middle" fill="#222" stroke="#222" stroke-width="0.35">S14</text>
<rect x="524.9" y="295.6" width="41.60" height="27.70" rx="2" fill="#fff" stroke="#2a2a2a" stroke-width="1"/>
<line x1="538.8" y1="295.6" x2="538.8" y2="323.3" stroke="#2a2a2a" stroke-width="1"/>
<line x1="552.6" y1="295.6" x2="552.6" y2="323.3" stroke="#2a2a2a" stroke-width="1"/>
<line x1="524.9" y1="309.4" x2="566.5" y2="309.4" stroke="#2a2a2a" stroke-width="1"/>
<text x="531.57" y="305.61" font-size="7.3" letter-spacing="-0.55" text-anchor="middle" fill="#111" stroke="#111" stroke-width="0.18">R33</text>
<text x="545.43" y="305.61" font-size="7.3" letter-spacing="-0.55" text-anchor="middle" fill="#111" stroke="#111" stroke-width="0.18">R34</text>
<text x="559.27" y="305.61" font-size="7.3" letter-spacing="-0.55" text-anchor="middle" fill="#111" stroke="#111" stroke-width="0.18">R35</text>
<text x="531.57" y="319.46" font-size="7.3" letter-spacing="-0.55" text-anchor="middle" fill="#111" stroke="#111" stroke-width="0.18">R31</text>
<line x1="538.8" y1="309.4" x2="552.6" y2="323.3" stroke="#2a2a2a" stroke-width="0.9"/>
<line x1="538.8" y1="323.3" x2="552.6" y2="309.4" stroke="#2a2a2a" stroke-width="0.9"/>
<text x="559.27" y="319.46" font-size="7.3" letter-spacing="-0.55" text-anchor="middle" fill="#111" stroke="#111" stroke-width="0.18">R32</text>
<rect x="568.9" y="295.6" width="41.70" height="27.70" rx="2" fill="#fff" stroke="#2a2a2a" stroke-width="1"/>
<line x1="582.8" y1="295.6" x2="582.8" y2="323.3" stroke="#2a2a2a" stroke-width="1"/>
<line x1="596.4" y1="295.6" x2="596.4" y2="323.3" stroke="#2a2a2a" stroke-width="1"/>
<line x1="568.9" y1="309.4" x2="610.6" y2="309.4" stroke="#2a2a2a" stroke-width="1"/>
<text x="575.57" y="305.61" font-size="7.3" letter-spacing="-0.55" text-anchor="middle" fill="#111" stroke="#111" stroke-width="0.18">R38</text>
<text x="589.32" y="305.61" font-size="7.3" letter-spacing="-0.55" text-anchor="middle" fill="#111" stroke="#111" stroke-width="0.18">R39</text>
<text x="603.23" y="305.61" font-size="7.3" letter-spacing="-0.55" text-anchor="middle" fill="#111" stroke="#111" stroke-width="0.18">R40</text>
<text x="575.57" y="319.46" font-size="7.3" letter-spacing="-0.55" text-anchor="middle" fill="#111" stroke="#111" stroke-width="0.18">R36</text>
<line x1="582.8" y1="309.4" x2="596.4" y2="323.3" stroke="#2a2a2a" stroke-width="0.9"/>
<line x1="582.8" y1="323.3" x2="596.4" y2="309.4" stroke="#2a2a2a" stroke-width="0.9"/>
<text x="603.23" y="319.46" font-size="7.3" letter-spacing="-0.55" text-anchor="middle" fill="#111" stroke="#111" stroke-width="0.18">R37</text>
<path d="M218.7,248.8 L218.7,189.8 L433.8,189.8 L433.8,248.8 M247.6,189.8 L247.6,248.8" fill="none" stroke="#ff0000" stroke-width="6.6" stroke-linejoin="miter"/>
<path d="M219,275 L219,366" stroke="#33cccc" stroke-width="6.8" stroke-linecap="round"/>
<path d="M208.3,365 L229.6,365 L219,385.2 Z" fill="#33cccc"/>
<path d="M247.7,272.4 L247.7,367.7 L319.2,367.7" fill="none" stroke="#f2bf8e" stroke-width="2.1" stroke-opacity="0.8"/>
</svg>
</body></html>
